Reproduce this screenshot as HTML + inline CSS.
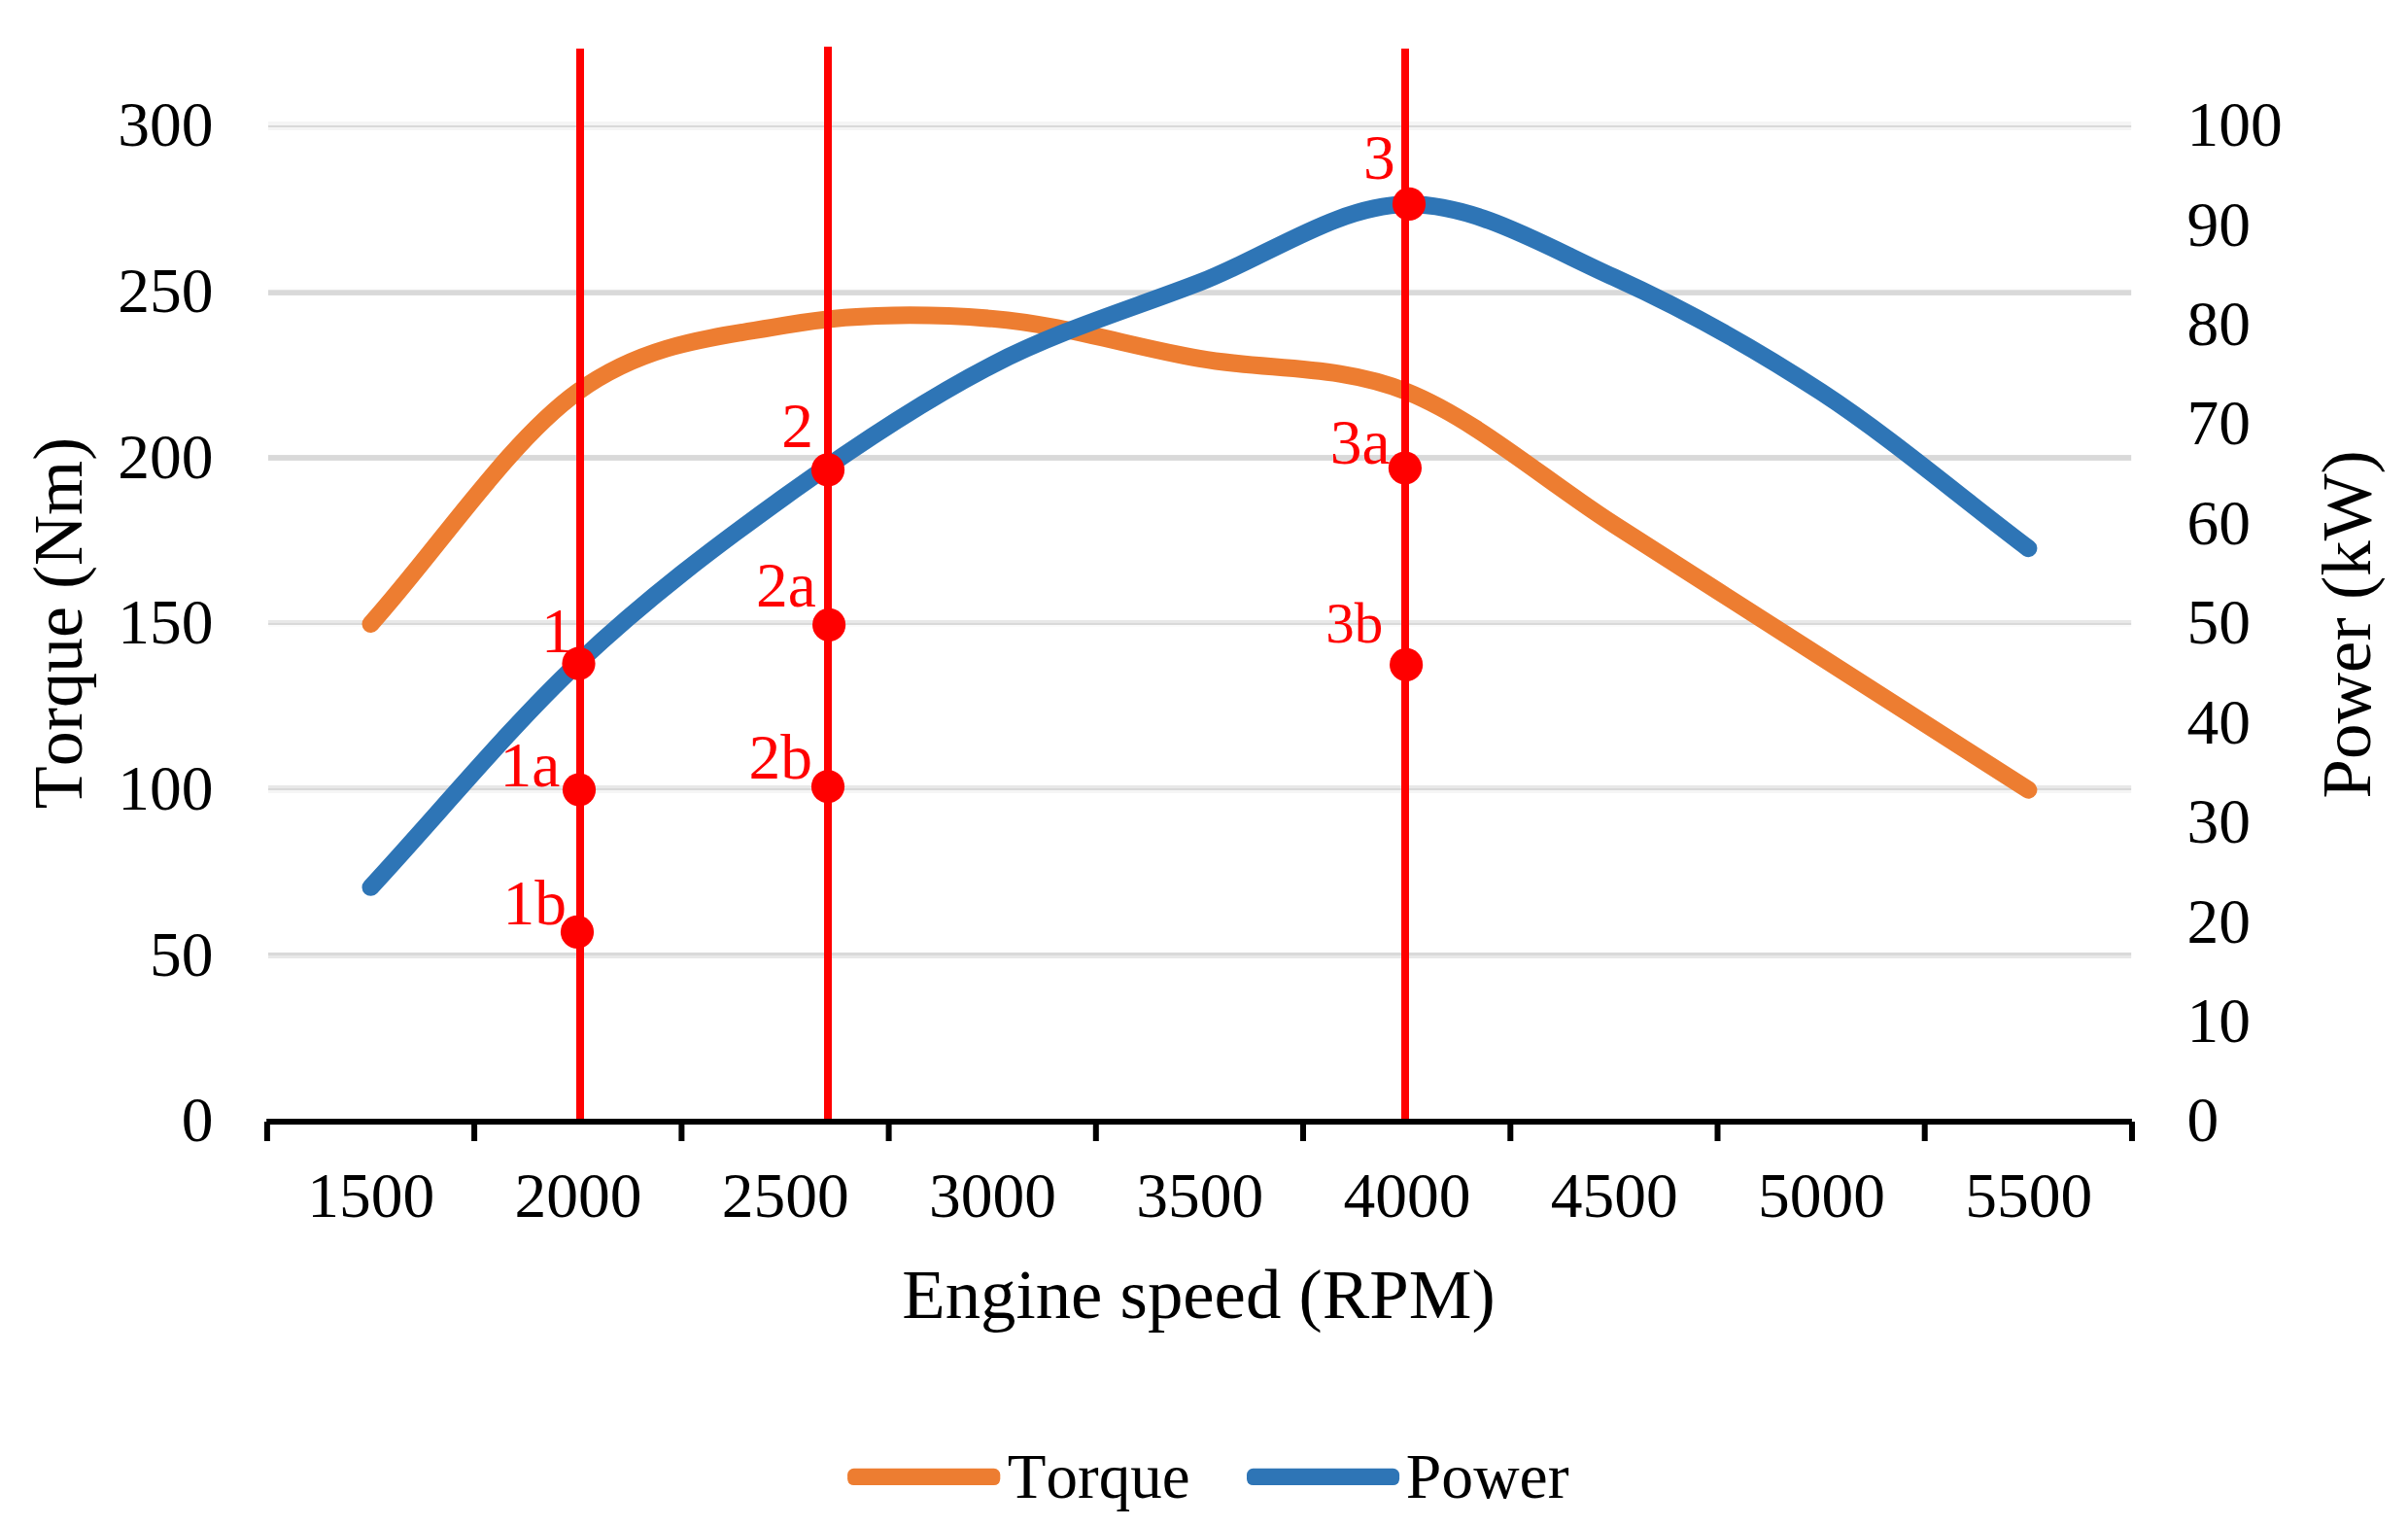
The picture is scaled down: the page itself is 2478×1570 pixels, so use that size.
<!DOCTYPE html><html><head><meta charset="utf-8"><title>Torque and Power vs Engine speed</title>
<style>html,body{margin:0;padding:0;background:#fff}svg{display:block}text{font-family:"Liberation Serif", serif;font-kerning:none}</style></head><body>
<svg width="2478" height="1570" viewBox="0 0 2478 1570">
<rect width="2478" height="1570" fill="#fff"/>
<g id="grid">
<rect x="276.0" y="125.0" width="1917.2" height="4.0" fill="#f5f5f5"/>
<rect x="276.0" y="129.0" width="1917.2" height="2.0" fill="#d9d9d9"/>
<rect x="276.0" y="131.0" width="1917.2" height="3.0" fill="#f5f5f5"/>
<rect x="276.0" y="296.3" width="1917.2" height="2.0" fill="#fdfdfd"/>
<rect x="276.0" y="298.3" width="1917.2" height="5.6" fill="#d9d9d9"/>
<rect x="276.0" y="468.1" width="1917.2" height="5.8" fill="#d9d9d9"/>
<rect x="276.0" y="638.0" width="1917.2" height="3.0" fill="#e8e8e8"/>
<rect x="276.0" y="641.0" width="1917.2" height="2.0" fill="#d9d9d9"/>
<rect x="276.0" y="643.0" width="1917.2" height="2.0" fill="#fbfbfb"/>
<rect x="276.0" y="808.0" width="1917.2" height="3.0" fill="#e8e8e8"/>
<rect x="276.0" y="811.0" width="1917.2" height="2.0" fill="#d9d9d9"/>
<rect x="276.0" y="813.0" width="1917.2" height="3.0" fill="#f5f5f5"/>
<rect x="276.0" y="978.0" width="1917.2" height="2.0" fill="#fdfdfd"/>
<rect x="276.0" y="980.0" width="1917.2" height="3.0" fill="#d9d9d9"/>
<rect x="276.0" y="983.0" width="1917.2" height="3.0" fill="#e8e8e8"/>
</g>
<g id="labels" fill="#ff0000" font-size="65.5">
<text x="556.9" y="670.8">1</text>
<text x="514.6" y="809.0">1a</text>
<text x="517.6" y="950.8">1b</text>
<text x="804.3" y="459.8">2</text>
<text x="777.9" y="624.0">2a</text>
<text x="770.6" y="800.8">2b</text>
<text x="1403.0" y="184.1">3</text>
<text x="1368.7" y="477.2">3a</text>
<text x="1364.3" y="661.0" font-size="59">3b</text>
</g>
<path d="M381.5,642.0 C452.6,562.3 523.7,454.2 594.7,403.0 C665.8,351.8 736.9,347.3 808.0,334.7 C879.1,322.2 950.1,322.2 1021.2,327.9 C1092.3,333.6 1163.4,356.4 1234.4,368.9 C1305.5,381.4 1376.6,374.6 1447.7,403.0 C1518.7,431.5 1589.8,494.1 1660.9,539.6 C1732.0,585.1 1803.0,630.6 1874.1,676.1 C1945.2,721.7 2016.3,767.2 2087.4,812.7" fill="none" stroke="#ed7d31" stroke-width="18" stroke-linecap="round" stroke-linejoin="round"/>
<path d="M381.5,912.8 C452.6,835.9 523.7,749.2 594.7,682.2 C665.8,615.1 736.9,561.7 808.0,510.6 C879.1,459.5 950.1,412.1 1021.2,375.4 C1092.3,338.8 1163.4,318.2 1234.4,290.7 C1305.5,263.2 1376.6,211.2 1447.7,210.3 C1518.7,209.4 1589.8,253.2 1660.9,285.3 C1732.0,317.5 1803.0,356.8 1874.1,403.3 C1945.2,449.8 2016.3,510.6 2087.4,564.2" fill="none" stroke="#2e75b6" stroke-width="18" stroke-linecap="round" stroke-linejoin="round"/>
<rect x="593.0" y="50.0" width="8" height="1102.0" fill="#ff0000"/>
<rect x="848.0" y="48.0" width="8" height="1104.0" fill="#ff0000"/>
<rect x="1442.0" y="50.0" width="8" height="1102.0" fill="#ff0000"/>
<rect x="274.2" y="1151" width="1919.7" height="6" fill="#000"/>
<rect x="271.9" y="1154" width="6" height="20" fill="#000"/>
<rect x="485.1" y="1154" width="6" height="20" fill="#000"/>
<rect x="698.4" y="1154" width="6" height="20" fill="#000"/>
<rect x="911.6" y="1154" width="6" height="20" fill="#000"/>
<rect x="1124.8" y="1154" width="6" height="20" fill="#000"/>
<rect x="1338.0" y="1154" width="6" height="20" fill="#000"/>
<rect x="1551.3" y="1154" width="6" height="20" fill="#000"/>
<rect x="1764.5" y="1154" width="6" height="20" fill="#000"/>
<rect x="1977.7" y="1154" width="6" height="20" fill="#000"/>
<rect x="2191.0" y="1154" width="6" height="20" fill="#000"/>
<circle cx="595.5" cy="682.7" r="17.1" fill="#ff0000"/>
<circle cx="596.0" cy="812.5" r="17.1" fill="#ff0000"/>
<circle cx="594.0" cy="958.9" r="17.1" fill="#ff0000"/>
<circle cx="852.0" cy="483.4" r="17.1" fill="#ff0000"/>
<circle cx="853.1" cy="642.9" r="17.1" fill="#ff0000"/>
<circle cx="852.0" cy="809.2" r="17.1" fill="#ff0000"/>
<circle cx="1450.0" cy="209.9" r="17.1" fill="#ff0000"/>
<circle cx="1445.9" cy="481.5" r="17.1" fill="#ff0000"/>
<circle cx="1447.1" cy="683.9" r="17.1" fill="#ff0000"/>
<g id="ticks" font-size="65.5" fill="#000">
<text x="219.6" y="1174.3" text-anchor="end">0</text>
<text x="219.6" y="1003.6" text-anchor="end">50</text>
<text x="219.6" y="832.9" text-anchor="end">100</text>
<text x="219.6" y="662.2" text-anchor="end">150</text>
<text x="219.6" y="491.5" text-anchor="end">200</text>
<text x="219.6" y="320.8" text-anchor="end">250</text>
<text x="219.6" y="150.1" text-anchor="end">300</text>
<text x="2250.6" y="1174.3">0</text>
<text x="2250.6" y="1071.9">10</text>
<text x="2250.6" y="969.5">20</text>
<text x="2250.6" y="867.0">30</text>
<text x="2250.6" y="764.6">40</text>
<text x="2250.6" y="662.2">50</text>
<text x="2250.6" y="559.8">60</text>
<text x="2250.6" y="457.4">70</text>
<text x="2250.6" y="354.9">80</text>
<text x="2250.6" y="252.5">90</text>
<text x="2250.6" y="150.1">100</text>
<text x="381.8" y="1252.2" text-anchor="middle">1500</text>
<text x="595.0" y="1252.2" text-anchor="middle">2000</text>
<text x="808.3" y="1252.2" text-anchor="middle">2500</text>
<text x="1021.5" y="1252.2" text-anchor="middle">3000</text>
<text x="1234.7" y="1252.2" text-anchor="middle">3500</text>
<text x="1448.0" y="1252.2" text-anchor="middle">4000</text>
<text x="1661.2" y="1252.2" text-anchor="middle">4500</text>
<text x="1874.4" y="1252.2" text-anchor="middle">5000</text>
<text x="2087.7" y="1252.2" text-anchor="middle">5500</text>
</g>
<text x="1233.5" y="1356" font-size="72.8" text-anchor="middle">Engine speed (RPM)</text>
<text transform="translate(84,641) rotate(-90)" font-size="72.1" text-anchor="middle">Torque (Nm)</text>
<text transform="translate(2439,642.4) rotate(-90)" font-size="72.9" text-anchor="middle">Power (kW)</text>
<rect x="872.1" y="1510.8" width="157.2" height="17.3" rx="6.5" fill="#ed7d31"/>
<text x="1036.8" y="1540.7" font-size="65">Torque</text>
<rect x="1283" y="1510.8" width="157.1" height="17.3" rx="6.5" fill="#2e75b6"/>
<text x="1446.8" y="1540.7" font-size="65.7">Power</text>
</svg></body></html>
